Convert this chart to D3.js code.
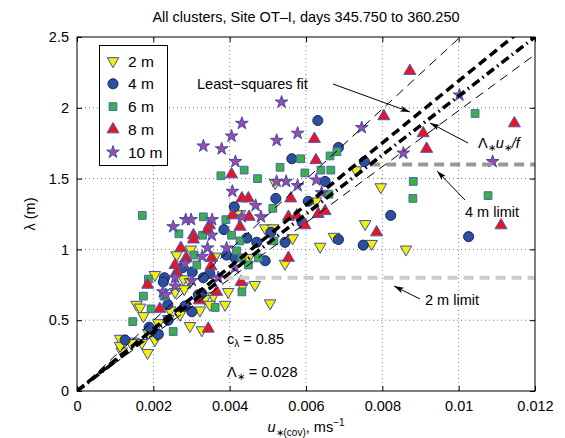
<!DOCTYPE html>
<html><head><meta charset="utf-8">
<script src="https://cdn.jsdelivr.net/npm/d3@7"></script>
<style>body{margin:0;background:#fff}svg{display:block}</style>
</head><body><svg id="c" width="565" height="438"></svg>
<script>
// ---------- data ----------
const titleText = "All clusters, Site OT\u2013I, days 345.750 to 360.250";
const xTicks = [0, 0.002, 0.004, 0.006, 0.008, 0.01, 0.012];
const xTickLabels = ["0", "0.002", "0.004", "0.006", "0.008", "0.01", "0.012"];
const yTicks = [0, 0.5, 1, 1.5, 2, 2.5];
const yTickLabels = ["0", "0.5", "1", "1.5", "2", "2.5"];
const seriesNames = ["2 m", "4 m", "6 m", "8 m", "10 m"];

const x2m = [0.00519,0.00626,0.00731,0.00796,0.00427,0.00493,0.00514,0.00755,0.00673,0.00772,0.00862,0.00637,0.00565,0.00449,0.00545,0.00362,0.00466,0.00434,0.00506,0.00396,0.00357,0.00388,0.00327,0.00298,0.00261,0.00204,0.00279,0.00296,0.00281,0.00257,0.00156,0.00165,0.00244,0.00174,0.00335,0.00348,0.00322,0.00270,0.00239,0.00213,0.00296,0.00187,0.00113,0.00148,0.00204,0.00170,0.00185,0.00117,0.00210,0.00141,0.00113];
const y2m = [1.47,1.34,1.56,1.44,1.25,1.15,1.15,1.18,1.09,1.04,1.00,1.02,1.08,0.94,0.90,0.95,0.75,0.74,0.62,0.70,0.67,0.61,0.43,1.00,0.96,0.82,0.79,0.77,0.72,0.70,0.61,0.59,0.57,0.53,0.65,0.61,0.57,0.54,0.51,0.48,0.46,0.41,0.37,0.35,0.36,0.34,0.27,0.28,0.40,0.34,0.32];

const x4m = [0.00631,0.00563,0.00521,0.00412,0.00650,0.00606,0.00385,0.00685,0.00753,0.00822,0.01026,0.00685,0.00750,0.00445,0.00471,0.00545,0.00392,0.00414,0.00493,0.00348,0.00327,0.00276,0.00302,0.00229,0.00226,0.00331,0.00283,0.00301,0.00318,0.00239,0.00213,0.00126,0.00189,0.00238,0.00590,0.00508];
const y4m = [1.91,1.64,1.36,1.30,1.48,1.34,1.14,1.72,1.62,1.24,1.09,1.07,1.03,1.08,1.05,1.05,0.96,0.94,0.92,0.83,0.69,0.87,0.84,0.80,0.77,0.80,0.60,0.56,0.68,0.50,0.40,0.36,0.45,0.61,1.19,1.12];

const x6m = [0.00532,0.00438,0.00597,0.00377,0.00473,0.00513,0.00586,0.00663,0.00681,0.00639,0.00665,0.00660,0.00171,0.00331,0.00390,0.00881,0.00880,0.01043,0.01077,0.00267,0.00329,0.00307,0.00314,0.00187,0.00228,0.00174,0.00194,0.00146,0.00252,0.00405,0.00427,0.00516,0.00418,0.00432,0.00475,0.00449,0.00432,0.00362];
const y6m = [1.58,1.56,1.54,1.52,1.50,1.29,1.64,1.66,1.69,1.56,1.56,1.39,1.24,1.23,1.21,1.48,1.36,1.96,1.38,1.11,1.10,0.96,0.89,0.79,0.67,0.67,0.58,0.49,0.42,1.10,1.06,1.06,0.99,0.94,0.94,0.89,0.70,0.59];

const x8m = [0.00622,0.00626,0.00405,0.00560,0.00432,0.00449,0.00872,0.00804,0.01146,0.00907,0.00916,0.01111,0.00785,0.00597,0.00632,0.00650,0.00407,0.00451,0.00554,0.00576,0.00427,0.00347,0.00305,0.00342,0.00272,0.00305,0.00286,0.00353,0.00257,0.00351,0.00261,0.00185,0.00217,0.00320,0.00344,0.00554,0.00430,0.00366];
const y8m = [1.78,1.63,1.53,1.36,1.36,1.36,2.26,1.94,1.89,1.82,1.71,1.17,1.12,1.17,1.25,1.27,1.24,1.23,1.23,1.24,1.16,1.17,1.10,1.14,1.01,1.07,0.94,0.94,0.89,0.88,0.84,0.75,0.58,0.64,0.44,0.94,0.77,0.70];

const x10m = [0.00536,0.00432,0.00405,0.00578,0.00523,0.00331,0.00379,0.00415,0.00523,0.00548,0.00578,0.00627,0.00407,0.00468,0.00252,0.00285,0.00299,0.00354,0.00432,0.00482,0.00746,0.01002,0.00855,0.01089,0.00641,0.00353,0.00342,0.00328,0.00283,0.00257,0.00301,0.00257,0.00225,0.00233,0.00392,0.00414,0.00370];
const y10m = [2.04,1.89,1.80,1.82,1.77,1.73,1.71,1.62,1.48,1.48,1.45,1.49,1.41,1.31,1.16,1.21,1.21,1.21,1.23,1.23,1.86,2.09,1.68,1.62,1.40,1.10,1.01,0.95,0.90,0.80,0.78,0.74,0.70,0.68,1.01,0.87,0.80];

const fitSlope = 219;        // least-squares fit, lambda per (m/s)
const lambdaSlope = 208.3;   // Lambda* u*/f
const boundSlopes = [249, 198];
const limitValues = [1.6, 0.8];
const limitNames = ["4 m limit", "2 m limit"];
const cLambdaText = "0.85";
const lambdaStarText = "0.028";

// ---------- layout ----------
const svg = d3.select("#c");
const W = 565, H = 438;
const m = {l: 77, r: 30, t: 37, b: 47};
const x = d3.scaleLinear().domain([0, 0.012]).range([m.l, W - m.r]);
const y = d3.scaleLinear().domain([0, 2.5]).range([H - m.b, m.t]);
const FONT = "'Liberation Sans', Arial, Helvetica, sans-serif";

svg.append("rect").attr("width", W).attr("height", H).attr("fill", "#fff");

const defs = svg.append("defs");
defs.append("clipPath").attr("id", "clip")
  .append("rect").attr("x", m.l).attr("y", m.t)
  .attr("width", W - m.l - m.r).attr("height", H - m.t - m.b);
defs.append("marker").attr("id", "ah").attr("viewBox", "0 0 10 6")
  .attr("refX", 10).attr("refY", 3).attr("markerWidth", 10).attr("markerHeight", 6)
  .attr("markerUnits", "userSpaceOnUse").attr("orient", "auto")
  .append("path").attr("d", "M0,0 L10,3 L0,6 L2.5,3 Z").attr("fill", "#000");

// grid
const grid = svg.append("g");
xTicks.slice(1, -1).forEach(t => grid.append("line")
  .attr("x1", x(t)).attr("x2", x(t)).attr("y1", y(0)).attr("y2", y(2.5))
  .attr("stroke", "#444").attr("stroke-width", 0.7).attr("stroke-dasharray", "1,3"));
yTicks.slice(1, -1).forEach(t => grid.append("line")
  .attr("x1", x(0)).attr("x2", x(0.012)).attr("y1", y(t)).attr("y2", y(t))
  .attr("stroke", "#444").attr("stroke-width", 0.7).attr("stroke-dasharray", "1,3"));

// axes
const fmtX = d => xTickLabels[xTicks.indexOf(d)];
const fmtY = d => yTickLabels[yTicks.indexOf(d)];
const axB = svg.append("g").attr("transform", `translate(0,${y(0)})`)
  .call(d3.axisBottom(x).tickValues(xTicks).tickFormat(fmtX).tickSize(-5).tickPadding(10));
const axL = svg.append("g").attr("transform", `translate(${x(0)},0)`)
  .call(d3.axisLeft(y).tickValues(yTicks).tickFormat(fmtY).tickSize(-5).tickPadding(8));
const axT = svg.append("g").attr("transform", `translate(0,${y(2.5)})`)
  .call(d3.axisTop(x).tickValues(xTicks).tickFormat("").tickSize(-5));
const axR = svg.append("g").attr("transform", `translate(${x(0.012)},0)`)
  .call(d3.axisRight(y).tickValues(yTicks).tickFormat("").tickSize(-5));
[axB, axL, axT, axR].forEach(a => {
  a.select(".domain").remove();
  a.selectAll("line").attr("stroke", "#000");
  a.selectAll("text").attr("font-family", FONT).attr("font-size", 14.5).attr("fill", "#000");
});

// scatter
const sym = (type, size) => d3.symbol().type(type).size(size)();
const series = [
  {xs: x2m, ys: y2m, path: sym(d3.symbolTriangle, 58), rot: 180, fill: "#f5f000", stroke: "#3a4fb5"},
  {xs: x4m, ys: y4m, path: sym(d3.symbolCircle, 80), rot: 0, fill: "#2c4fa0", stroke: "#1a2550"},
  {xs: x6m, ys: y6m, path: sym(d3.symbolSquare, 60), rot: 0, fill: "#3cb043", stroke: "#4a64c0"},
  {xs: x8m, ys: y8m, path: sym(d3.symbolTriangle, 62), rot: 0, fill: "#e8141e", stroke: "#4a58b8"},
  {xs: x10m, ys: y10m, path: sym(d3.symbolStar, 50), rot: 0, fill: "#a04a9c", stroke: "#3a4fb5"}
];
const pts = svg.append("g").attr("clip-path", "url(#clip)");
series.forEach(s => {
  pts.append("g").selectAll("path").data(d3.range(s.xs.length)).join("path")
    .attr("d", s.path)
    .attr("transform", i => `translate(${x(s.xs[i])},${y(s.ys[i])}) rotate(${s.rot})`)
    .attr("fill", s.fill).attr("stroke", s.stroke).attr("stroke-width", 1);
});

// reference lines (clipped)
const lines = svg.append("g").attr("clip-path", "url(#clip)");
const lineGen = d3.line().x(d => x(d[0])).y(d => y(d[1]));
boundSlopes.forEach(s => lines.append("path")
  .attr("d", lineGen([[0, 0], [0.012, s * 0.012]]))
  .attr("stroke", "#000").attr("stroke-width", 1).attr("fill", "none")
  .attr("stroke-dasharray", "9,6"));
const limitColors = ["#999", "#ccc"];
limitValues.forEach((v, i) => lines.append("path")
  .attr("d", lineGen([[v / lambdaSlope, v], [0.012, v]]))
  .attr("stroke", limitColors[i]).attr("stroke-width", 4).attr("fill", "none")
  .attr("stroke-dasharray", "10,6"));
lines.append("path").attr("d", lineGen([[0, 0], [0.012, fitSlope * 0.012]]))
  .attr("stroke", "#000").attr("stroke-width", 3.5).attr("fill", "none")
  .attr("stroke-dasharray", "9,5");
lines.append("path").attr("d", lineGen([[0, 0], [0.012, lambdaSlope * 0.012]]))
  .attr("stroke", "#000").attr("stroke-width", 3.5).attr("fill", "none")
  .attr("stroke-dasharray", "9,4,1.5,4");

// box
svg.append("rect").attr("x", m.l).attr("y", m.t)
  .attr("width", W - m.l - m.r).attr("height", H - m.t - m.b)
  .attr("fill", "none").attr("stroke", "#000").attr("stroke-width", 1);

// title & axis labels
svg.append("text").attr("x", 306).attr("y", 22).attr("text-anchor", "middle")
  .attr("font-family", FONT).attr("font-size", 14.5).text(titleText);
const xl = svg.append("text").attr("x", 306).attr("y", 432).attr("text-anchor", "middle")
  .attr("font-family", FONT).attr("font-size", 14.5);
xl.append("tspan").attr("font-style", "italic").text("u");
xl.append("tspan").attr("font-size", 10).attr("dy", 4).text("\u2217(cov)");
xl.append("tspan").attr("dy", -4).text(", ms");
xl.append("tspan").attr("font-size", 10).attr("dy", -6).text("\u22121");
svg.append("text").attr("transform", "translate(35,214) rotate(-90)")
  .attr("text-anchor", "middle").attr("font-family", FONT).attr("font-size", 14.5)
  .text("\u03bb (m)");

// legend
const lg = svg.append("g");
lg.append("rect").attr("x", 99.5).attr("y", 45.5).attr("width", 68).attr("height", 120)
  .attr("fill", "#fff").attr("stroke", "#000").attr("stroke-width", 1);
series.forEach((s, i) => {
  const yy = 61 + i * 22.8;
  lg.append("path").attr("d", s.path)
    .attr("transform", `translate(113,${yy}) rotate(${s.rot})`)
    .attr("fill", s.fill).attr("stroke", s.stroke).attr("stroke-width", 1);
  lg.append("text").attr("x", 128).attr("y", yy + 5.5).attr("font-family", FONT)
    .attr("font-size", 15.5).text(seriesNames[i]);
});

// annotations
const ann = svg.append("g").attr("font-family", FONT).attr("font-size", 14.5);
const arrow = (x1, y1, x2, y2) => ann.append("line").attr("x1", x1).attr("y1", y1)
  .attr("x2", x2).attr("y2", y2).attr("stroke", "#000").attr("stroke-width", 1)
  .attr("marker-end", "url(#ah)");
ann.append("text").attr("x", 197).attr("y", 89).text("Least\u2212squares fit");
arrow(333, 84, 410, 112);
const lt = ann.append("text").attr("x", 478).attr("y", 148);
lt.append("tspan").text("\u039b");
lt.append("tspan").attr("font-size", 10).attr("dy", 3).text("\u2217");
lt.append("tspan").attr("dy", -3).attr("font-style", "italic").text("u");
lt.append("tspan").attr("font-size", 10).attr("dy", 3).text("\u2217");
lt.append("tspan").attr("dy", -3).attr("font-style", "italic").text("/f");
arrow(468, 143, 430, 123);
ann.append("text").attr("x", 465).attr("y", 217).text(limitNames[0]);
arrow(465, 200, 437, 171);
ann.append("text").attr("x", 425).attr("y", 305).text(limitNames[1]);
arrow(420, 299, 394, 286);
const ct = ann.append("text").attr("x", 227).attr("y", 344);
ct.append("tspan").text("c");
ct.append("tspan").attr("font-size", 10).attr("dy", 3).text("\u03bb");
ct.append("tspan").attr("dy", -3).text(" = " + cLambdaText);
const lst = ann.append("text").attr("x", 227).attr("y", 377);
lst.append("tspan").text("\u039b");
lst.append("tspan").attr("font-size", 10).attr("dy", 3).text("\u2217");
lst.append("tspan").attr("dy", -3).text(" = " + lambdaStarText);
</script>
</body></html>
